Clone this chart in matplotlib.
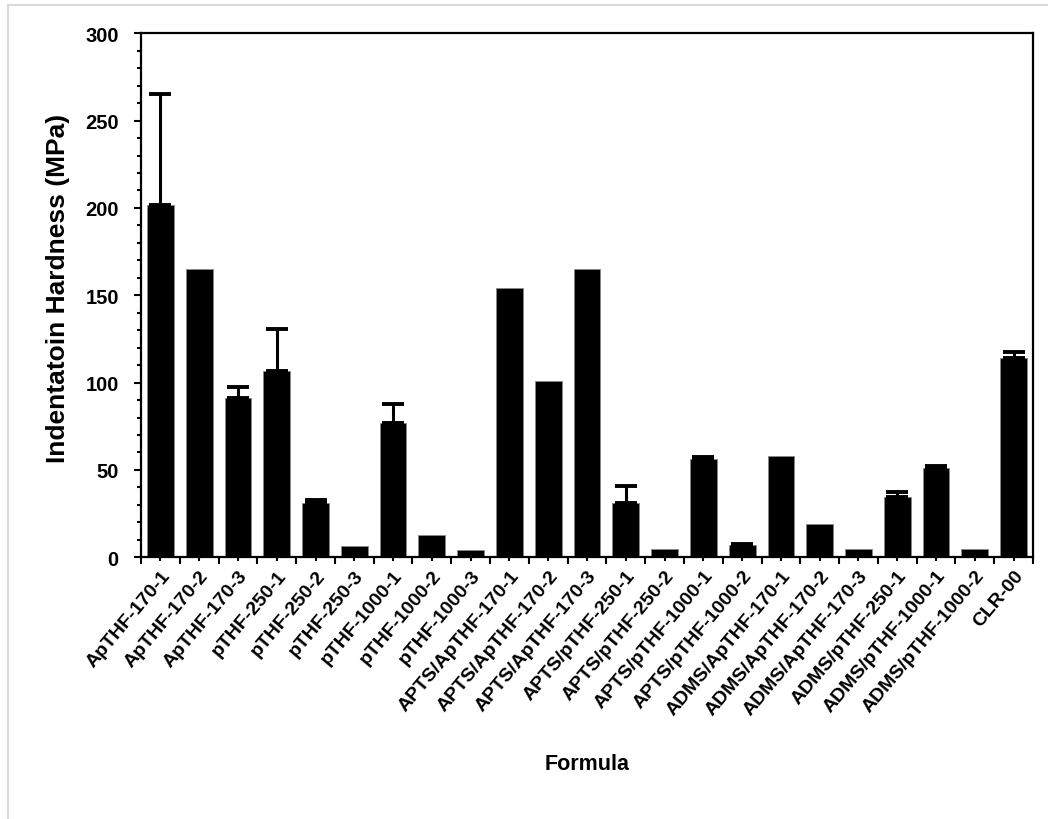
import matplotlib
matplotlib.use("Agg")
import matplotlib.pyplot as plt
import numpy as np
from matplotlib.ticker import MultipleLocator, FixedLocator
from matplotlib.lines import Line2D

plt.rcParams['font.family'] = ['Liberation Sans', 'DejaVu Sans']
plt.rcParams['font.weight'] = 'bold'

# formulas along the x axis
formulas = ["ApTHF-170-1", "ApTHF-170-2", "ApTHF-170-3", "pTHF-250-1", "pTHF-250-2",
            "pTHF-250-3", "pTHF-1000-1", "pTHF-1000-2", "pTHF-1000-3",
            "APTS/ApTHF-170-1", "APTS/ApTHF-170-2", "APTS/ApTHF-170-3",
            "APTS/pTHF-250-1", "APTS/pTHF-250-2", "APTS/pTHF-1000-1", "APTS/pTHF-1000-2",
            "ADMS/ApTHF-170-1", "ADMS/ApTHF-170-2", "ADMS/ApTHF-170-3",
            "ADMS/pTHF-250-1", "ADMS/pTHF-1000-1", "ADMS/pTHF-1000-2", "CLR-00"]
# hardness (MPa) and upper error
hardness = [201.5, 165, 91, 106.5, 31, 6.5, 77, 12.5, 4,
            154, 101, 165, 31, 5, 56, 7,
            58, 19, 5, 34.5, 51, 4.5, 114]
err_up = [63.5, 0, 6.5, 24, 2, 0, 10.5, 0, 0,
          0, 0, 0, 10, 0, 1.5, 0.7,
          0, 0, 0, 3, 1.2, 0, 3.5]

W, H = 1048, 820
fig = plt.figure(figsize=(W / 100, H / 100), dpi=100)
ax = fig.add_axes([141 / W, 1 - 558.3 / H, (1033 - 141) / W, (558.3 - 34.3) / H])

x = np.arange(len(formulas))
ax.bar(x, hardness, width=0.69, color='black', edgecolor='#888888', linewidth=0.6, zorder=2)

# only bars that have an error value get an error bar
ex = [i for i in x if err_up[i] > 0]
ey = [hardness[i] for i in ex]
ee = [err_up[i] for i in ex]
ax.errorbar(ex, ey, yerr=[np.zeros(len(ee)), ee], fmt='none',
            ecolor='black', elinewidth=2.2, capsize=8, capthick=2.8, zorder=3)

ax.set_xlim(-0.5, len(formulas) - 0.5)
ax.set_ylim(0, 300)
ax.yaxis.set_major_locator(MultipleLocator(50))
ax.yaxis.set_minor_locator(MultipleLocator(10))
ax.xaxis.set_major_locator(FixedLocator(np.arange(-0.5, len(formulas), 1.0)))
ax.set_xticklabels([])
ax.set_xticks(x, formulas, minor=True)
ax.tick_params(axis='x', which='major', direction='out', length=5, width=1.5)
ax.tick_params(axis='x', which='minor', direction='out', length=3, width=1.5,
               labelsize=14, pad=4)
ax.tick_params(axis='y', which='major', direction='out', length=5, width=1.5,
               labelsize=14.5, pad=11)
ax.tick_params(axis='y', which='minor', direction='out', length=3, width=1.5)
for lab in ax.get_xticklabels(minor=True):
    lab.set_rotation(50)
    lab.set_ha('right')
    lab.set_rotation_mode('anchor')
    lab.set_fontweight('bold')
for lab in ax.get_yticklabels():
    lab.set_fontweight('bold')

for s in ax.spines.values():
    s.set_linewidth(1.6)
    s.set_color('black')

fig.text(58 / W, 1 - 288 / H, "Indentatoin Hardness (MPa)", rotation=90, ha='center', va='center',
         fontsize=19, fontweight='bold')
fig.text(587 / W, 1 - 765 / H, "Formula", ha='center', va='center',
         fontsize=15.5, fontweight='bold')

# light gray chart border
fig.add_artist(Line2D([7.5 / W, 7.5 / W], [0, 1 - 5.5 / H], color='#d9d9d9', linewidth=1.5,
                      transform=fig.transFigure))
fig.add_artist(Line2D([7.5 / W, 1], [1 - 5.5 / H, 1 - 5.5 / H], color='#d9d9d9', linewidth=1.5,
                      transform=fig.transFigure))

fig.savefig("out.png", dpi=100)
